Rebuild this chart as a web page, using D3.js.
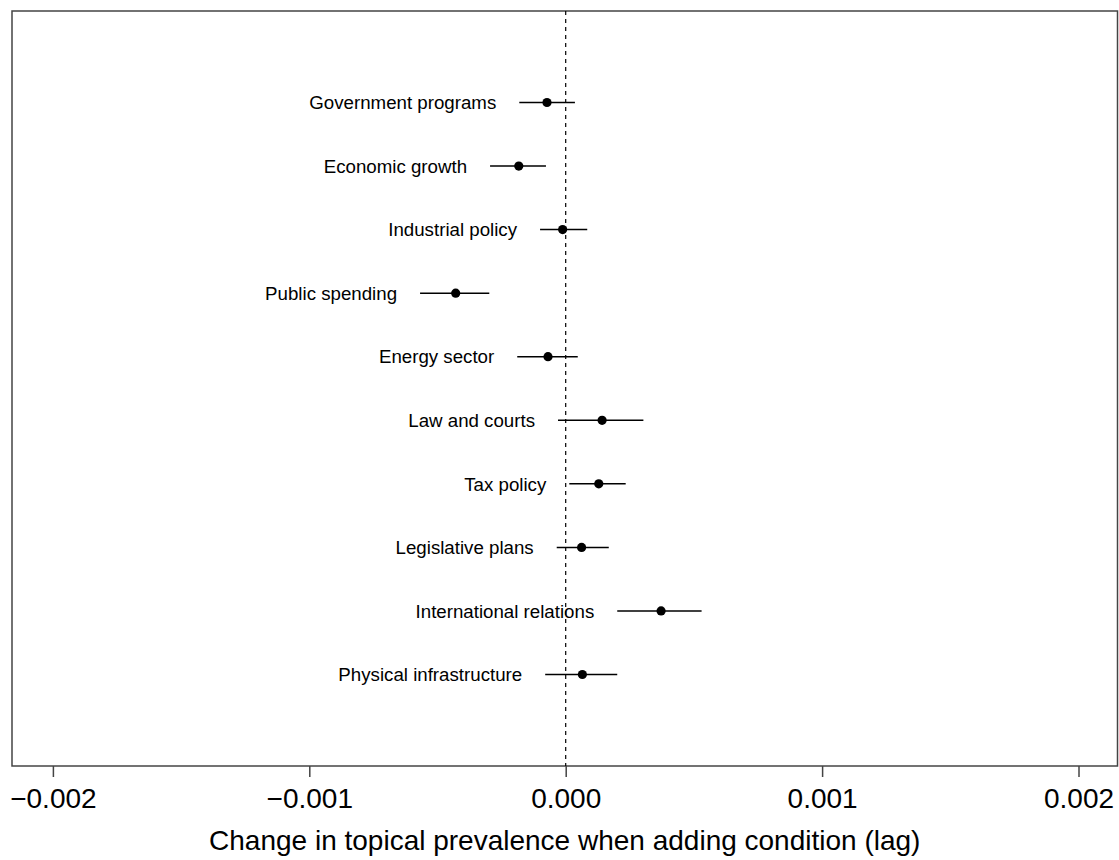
<!DOCTYPE html>
<html>
<head>
<meta charset="utf-8">
<script src="https://cdn.jsdelivr.net/npm/d3@7"></script>
<style>
  html, body { margin: 0; padding: 0; background: #fff; }
  svg { display: block; font-family: "Liberation Sans", Arial, sans-serif; }
</style>
</head>
<body>
<svg id="chart" width="1119" height="860"></svg>
<script>
// ---- data ----
const topics = ["Government programs", "Economic growth", "Industrial policy", "Public spending",
  "Energy sector", "Law and courts", "Tax policy", "Legislative plans",
  "International relations", "Physical infrastructure"];
const estimates = [-0.000073, -0.000183, -0.000012, -0.000429, -0.000069,
  0.000142, 0.000129, 0.000062, 0.000372, 0.000065];
const ciLower = [-0.000181, -0.000295, -0.000100, -0.000568, -0.000189,
  -0.000030, 0.000014, -0.000035, 0.000201, -0.000080];
const ciUpper = [0.000036, -0.000077, 0.000084, -0.000298, 0.000047,
  0.000303, 0.000234, 0.000168, 0.000530, 0.000201];
const xTicks = [-0.002, -0.001, 0.000, 0.001, 0.002];
const xTickLabels = ["\u22120.002", "\u22120.001", "0.000", "0.001", "0.002"];
const xTitle = "Change in topical prevalence when adding condition (lag)";

// ---- layout ----
const svg = d3.select("#chart");
const box = { left: 12, right: 1117.5, top: 11, bottom: 766 };

const x = d3.scaleLinear().domain([-0.002, 0.002]).range([52.9, 1078.5]);
const n = topics.length;
const y = d3.scaleLinear().domain([-0.44, n + 1.44]).range([box.bottom, box.top]);
const rowY = i => y(n - i);

// frame
svg.append("rect")
  .attr("x", box.left).attr("y", box.top)
  .attr("width", box.right - box.left).attr("height", box.bottom - box.top)
  .attr("fill", "none").attr("stroke", "#444").attr("stroke-width", 1.5);

// dashed zero line
svg.append("line")
  .attr("x1", x(0)).attr("x2", x(0))
  .attr("y1", box.top).attr("y2", box.bottom)
  .attr("stroke", "#000").attr("stroke-width", 1.2)
  .attr("stroke-dasharray", "4,4");

// x axis
const axis = d3.axisBottom(x)
  .tickValues(xTicks)
  .tickFormat((d, i) => xTickLabels[i])
  .tickSize(11)
  .tickSizeOuter(0);
const gAxis = svg.append("g")
  .attr("transform", `translate(0,${box.bottom})`)
  .call(axis);
gAxis.select(".domain").remove();
gAxis.selectAll(".tick line").attr("stroke", "#444").attr("stroke-width", 1.5);
gAxis.selectAll(".tick text")
  .attr("fill", "#000")
  .attr("font-size", 28)
  .attr("font-family", "Liberation Sans, Arial, sans-serif")
  .attr("y", 0)
  .attr("dy", 0)
  .attr("transform", "translate(0,42)");

// x title
svg.append("text")
  .attr("x", (box.left + box.right) / 2 + 0)
  .attr("y", 850)
  .attr("text-anchor", "middle")
  .attr("font-size", 28)
  .attr("fill", "#000")
  .text(xTitle);

// rows
const rows = svg.append("g");
topics.forEach((t, i) => {
  const yy = rowY(i);
  rows.append("line")
    .attr("x1", x(ciLower[i])).attr("x2", x(ciUpper[i]))
    .attr("y1", yy).attr("y2", yy)
    .attr("stroke", "#000").attr("stroke-width", 1.5);
  rows.append("circle")
    .attr("cx", x(estimates[i])).attr("cy", yy)
    .attr("r", 4.6).attr("fill", "#000");
  rows.append("text")
    .attr("x", x(ciLower[i]) - 23)
    .attr("y", yy)
    .attr("dy", "0.36em")
    .attr("text-anchor", "end")
    .attr("font-size", 18.7)
    .attr("fill", "#000")
    .text(t);
});
</script>
</body>
</html>
